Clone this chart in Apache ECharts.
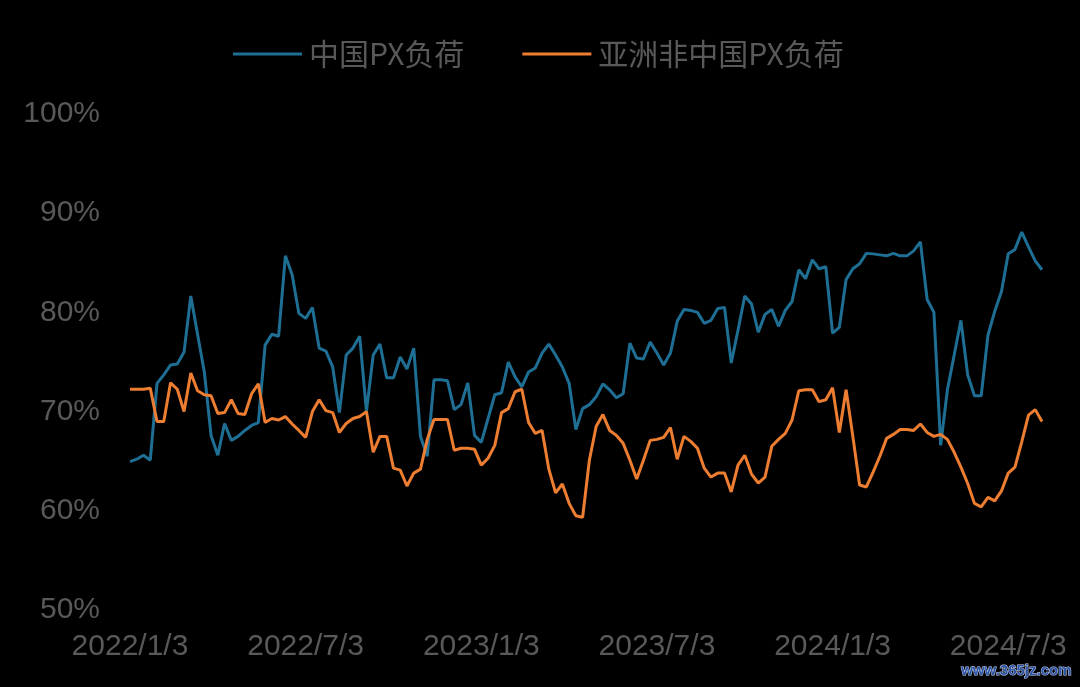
<!DOCTYPE html>
<html>
<head>
<meta charset="utf-8">
<script src="https://cdn.jsdelivr.net/npm/echarts@6/dist/echarts.min.js"></script>
<style>
html,body{margin:0;padding:0;background:#000;}
#chart{width:1080px;height:687px;}
</style>
</head>
<body>
<div id="chart"></div>
<script>
// Weekly observations starting 2022/1/3 (index = week number)
const seriesNames = ['中国PX负荷', '亚洲非中国PX负荷'];
const tickLabels = ['2022/1/3', '2022/7/3', '2023/1/3', '2023/7/3', '2024/1/3', '2024/7/3'];
const chinaPX = [
  64.95, 65.2, 65.6, 65.1, 72.85, 73.7, 74.7, 74.8, 76.0, 81.65,
  77.8, 74.0, 67.6, 65.6, 68.8, 67.1, 67.5, 68.1, 68.6, 68.9,
  76.7, 77.8, 77.6, 85.7, 83.8, 79.9, 79.4, 80.5, 76.4, 76.1,
  74.5, 69.9, 75.7, 76.4, 77.6, 70.0, 75.7, 76.8, 73.4, 73.4,
  75.5, 74.3, 76.4, 67.5, 65.5, 73.2, 73.2, 73.1, 70.2, 70.7,
  72.9, 67.6, 66.9, 69.3, 71.7, 71.9, 75.0, 73.5, 72.5, 74.0,
  74.4, 75.9, 76.8, 75.7, 74.5, 72.85, 68.2, 70.3, 70.7, 71.5,
  72.8, 72.2, 71.4, 71.8, 76.9, 75.4, 75.3, 77.0, 75.9, 74.7,
  75.9, 79.1, 80.3, 80.2, 80.0, 78.9, 79.2, 80.4, 80.5, 74.9,
  78.2, 81.65, 80.85, 78.0, 79.8, 80.3, 78.6, 80.2, 81.1, 84.3,
  83.4, 85.3, 84.4, 84.6, 77.9, 78.5, 83.3, 84.4, 84.9, 85.95,
  85.9, 85.8, 85.7, 85.95, 85.7, 85.7, 86.2, 87.1, 81.3, 80.0,
  66.6, 72.2, 75.7, 79.2, 73.7, 71.6, 71.6, 77.7, 80.1, 82.1,
  85.9, 86.35, 88.1, 86.6, 85.2, 84.3
];
const asiaExChinaPX = [
  72.25, 72.25, 72.25, 72.35, 69.0, 69.0, 72.9, 72.25, 70.0, 73.9,
  72.1, 71.7, 71.6, 69.8, 69.9, 71.2, 69.8, 69.7, 71.8, 72.8,
  68.9, 69.3, 69.15, 69.5, 68.75, 68.1, 67.4, 70.0, 71.2, 70.1,
  69.9, 67.9, 68.8, 69.3, 69.5, 70.0, 65.9, 67.5, 67.5, 64.3,
  64.1, 62.5, 63.8, 64.2, 67.2, 69.2, 69.2, 69.2, 66.1, 66.3,
  66.3, 66.2, 64.6, 65.3, 66.6, 69.9, 70.3, 72.0, 72.25, 68.9,
  67.8, 68.1, 64.2, 61.8, 62.7, 60.75, 59.5, 59.35, 65.1, 68.5,
  69.7, 68.1, 67.6, 66.8, 65.1, 63.2, 65.1, 67.1, 67.2, 67.4,
  68.4, 65.2, 67.5, 67.0, 66.3, 64.3, 63.4, 63.8, 63.8, 61.9,
  64.6, 65.6, 63.7, 62.8, 63.4, 66.5, 67.2, 67.8, 69.15, 72.1,
  72.2, 72.2, 71.0, 71.2, 72.4, 67.9, 72.2, 67.5, 62.6, 62.4,
  63.9, 65.5, 67.3, 67.7, 68.2, 68.2, 68.1, 68.75, 67.9, 67.5,
  67.7, 67.2, 65.9, 64.4, 62.75, 60.75, 60.4, 61.35, 61.0, 62.0,
  63.8, 64.4, 66.95, 69.65, 70.2, 69.0
];

const toPairs = arr => arr.map((v, i) => [i, v]);
const lastIndex = chinaPX.length - 1;
const weeksPerTick = 26;

const chart = echarts.init(document.getElementById('chart'));
const gray = '#595959';
chart.setOption({
  backgroundColor: '#000000',
  animation: false,
  legend: {
    left: 228,
    top: 34,
    itemWidth: 69,
    itemHeight: 3,
    itemGap: 58,
    icon: 'rect',
    textStyle: {
      color: gray,
      fontSize: 30,
      fontFamily: '"Noto Sans CJK SC", "Liberation Sans", sans-serif',
      padding: [0, 0, 0, 2]
    },
    data: seriesNames
  },
  grid: { left: 130, right: 38, top: 114, bottom: 77 },
  xAxis: {
    type: 'value',
    min: 0,
    max: lastIndex,
    interval: weeksPerTick,
    axisLine: { show: false },
    axisTick: { show: false },
    splitLine: { show: false },
    axisLabel: {
      color: gray,
      fontSize: 30,
      fontFamily: '"Liberation Sans", Arial, sans-serif',
      margin: 22,
      showMaxLabel: false,
      formatter: v => {
        const k = v / weeksPerTick;
        return Number.isInteger(k) && tickLabels[k] ? tickLabels[k] : '';
      }
    }
  },
  yAxis: {
    type: 'value',
    min: 50,
    max: 100,
    interval: 10,
    axisLine: { show: false },
    axisTick: { show: false },
    splitLine: { show: false },
    axisLabel: {
      color: gray,
      fontSize: 30,
      fontFamily: '"Liberation Sans", Arial, sans-serif',
      margin: 30,
      formatter: v => v + '%'
    }
  },
  series: [
    {
      name: seriesNames[0],
      type: 'line',
      data: toPairs(chinaPX),
      showSymbol: false,
      color: '#1f6f95',
      lineStyle: { width: 3, color: '#1f6f95' }
    },
    {
      name: seriesNames[1],
      type: 'line',
      data: toPairs(asiaExChinaPX),
      showSymbol: false,
      color: '#ed7d31',
      lineStyle: { width: 3, color: '#ed7d31' }
    }
  ],
  graphic: [{
    type: 'text',
    right: 8,
    bottom: 8,
    style: {
      text: 'www.365jz.com',
      fill: '#2f56a6',
      stroke: '#c9d5ef',
      lineWidth: 1,
      font: 'bold 15px "Liberation Sans Narrow", "Liberation Sans", sans-serif'
    }
  }]
});
</script>
</body>
</html>
